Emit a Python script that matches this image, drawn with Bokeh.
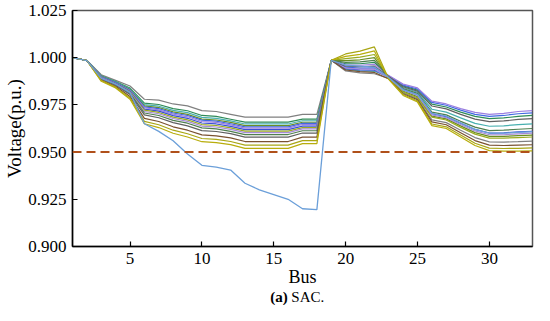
from bokeh.plotting import figure
from bokeh.models import FixedTicker, PrintfTickFormatter, Span, Range1d
from bokeh.layouts import column
from bokeh.core.properties import value
from bokeh.embed import file_html
from bokeh.resources import INLINE

bus = list(range(1, 34))

x_ticks = [5, 10, 15, 20, 25, 30]
y_ticks = [0.900, 0.925, 0.950, 0.975, 1.000, 1.025]
limit = 0.95

v_l0 = [1.0000, .9985, .9910, .9880, .9850, .9780, .9775, .9755, .9745, .9720, .9715, .9700, .9685, .9685, .9685, .9685, .9700, .9700,
        .9986, .9930, .9920, .9915, .9890, .9814, .9782, .9671, .9656, .9616, .9577, .9554, .9553, .9555, .9558]
v_l1 = [1.0000, .9985, .9904, .9874, .9839, .9759, .9752, .9730, .9719, .9694, .9689, .9674, .9659, .9659, .9659, .9659, .9675, .9675,
        .9986, .9968, .9968, .9975, .9902, .9851, .9828, .9754, .9739, .9712, .9689, .9677, .9681, .9689, .9694]
v_l2 = [1.0000, .9985, .9902, .9871, .9835, .9751, .9743, .9721, .9709, .9684, .9679, .9665, .9649, .9649, .9649, .9649, .9666, .9666,
        .9986, .9938, .9930, .9928, .9899, .9842, .9817, .9727, .9712, .9681, .9652, .9637, .9639, .9646, .9650]
v_l3 = [1.0000, .9985, .9900, .9869, .9831, .9745, .9736, .9713, .9700, .9675, .9670, .9657, .9640, .9640, .9640, .9640, .9658, .9658,
        .9986, .9984, .9989, 1.0000, .9893, .9823, .9794, .9691, .9676, .9639, .9603, .9583, .9583, .9587, .9590]
v_l4 = [1.0000, .9985, .9899, .9868, .9828, .9740, .9730, .9707, .9694, .9669, .9664, .9650, .9634, .9634, .9634, .9634, .9652, .9652,
        .9986, .9950, .9945, .9946, .9903, .9855, .9834, .9763, .9748, .9722, .9700, .9689, .9694, .9703, .9708]
v_l5 = [1.0000, .9985, .9898, .9866, .9826, .9735, .9724, .9701, .9687, .9662, .9657, .9644, .9627, .9627, .9627, .9627, .9646, .9646,
        .9986, .9962, .9960, .9965, .9905, .9860, .9840, .9770, .9755, .9730, .9710, .9700, .9705, .9715, .9720]
v_l6 = [1.0000, .9985, .9896, .9864, .9822, .9728, .9717, .9693, .9679, .9654, .9649, .9636, .9619, .9619, .9619, .9619, .9638, .9638,
        .9986, .9942, .9935, .9934, .9896, .9832, .9805, .9703, .9688, .9653, .9620, .9601, .9602, .9607, .9610]
v_l7 = [1.0000, .9985, .9894, .9862, .9819, .9722, .9710, .9685, .9671, .9646, .9641, .9628, .9611, .9611, .9611, .9611, .9630, .9630,
        .9986, .9995, 1.0003, 1.0017, .9891, .9818, .9788, .9685, .9670, .9631, .9595, .9574, .9574, .9577, .9580]
v_l8 = [1.0000, .9985, .9893, .9860, .9815, .9715, .9703, .9678, .9663, .9638, .9633, .9620, .9603, .9603, .9603, .9603, .9623, .9623,
        .9986, .9945, .9940, .9939, .9894, .9828, .9800, .9697, .9682, .9646, .9612, .9592, .9592, .9597, .9600]
v_l9 = [1.0000, .9985, .9890, .9858, .9811, .9707, .9694, .9668, .9653, .9628, .9623, .9610, .9593, .9593, .9593, .9593, .9613, .9613,
        .9986, .9975, .9978, .9986, .9897, .9837, .9811, .9712, .9697, .9663, .9632, .9614, .9616, .9621, .9625]
v_l10 = [1.0000, .9985, .9888, .9854, .9805, .9697, .9682, .9656, .9639, .9614, .9609, .9598, .9579, .9579, .9579, .9579, .9601, .9601,
         .9986, .9955, .9952, .9955, .9900, .9846, .9823, .9744, .9729, .9700, .9675, .9661, .9665, .9673, .9677]
v_l11 = [1.0000, .9985, .9883, .9849, .9795, .9679, .9662, .9634, .9616, .9591, .9586, .9575, .9556, .9556, .9556, .9556, .9579, .9579,
         .9986, .9935, .9926, .9922, .9888, .9809, .9777, .9660, .9645, .9603, .9561, .9537, .9535, .9537, .9539]
v_l12 = [1.0000, .9985, .9879, .9844, .9787, .9663, .9645, .9616, .9597, .9572, .9567, .9556, .9537, .9537, .9537, .9537, .9561, .9561,
         .9986, 1.0020, 1.0035, 1.0057, .9887, .9805, .9771, .9649, .9634, .9591, .9547, .9521, .9519, .9520, .9522]
v_l13 = [1.0000, .9985, .9875, .9840, .9780, .9650, .9630, .9600, .9580, .9555, .9550, .9540, .9520, .9520, .9520, .9520, .9545, .9545,
         .9986, 1.0007, 1.0018, 1.0036, .9885, .9800, .9765, .9640, .9625, .9580, .9535, .9508, .9505, .9505, .9507]
v_drop = [1.0000, .9985, .9890, .9860, .9815, .9650, .9610, .9560, .9490, .9430, .9420, .9405, .9335, .9300, .9275, .9250, .9200, .9195,
          .9986, .9960, .9955, .9950, .9895, .9830, .9805, .9705, .9690, .9655, .9620, .9600, .9600, .9605, .9608]

series = [v_l0, v_l1, v_l2, v_l3, v_l4, v_l5, v_l6, v_l7, v_l8, v_l9, v_l10, v_l11, v_l12, v_l13]
colors = ["#808080", "#2e8b57", "#48b0b0", "#6b8e23", "#4169e1", "#9b7fe0", "#3a4fd6",
          "#9aab1f", "#a58ad8", "#4f7f4f", "#606060", "#7a5230", "#a9a614", "#b8ad0c"]
drop_color = "#6b9fd9"

caption_bold = "(a)"
caption_text = "SAC."

FONT = "Liberation Serif"

p = figure(width=534, height=289, output_backend="svg", toolbar_location=None,
           x_range=Range1d(1, 33), y_range=Range1d(0.9, 1.025),
           min_border_top=10, min_border_right=2, min_border_left=72, min_border_bottom=42)
p.outline_line_color = "#555555"
p.outline_line_width = 1.5
p.grid.visible = False

for vals, c in zip(series, colors):
    p.line(bus, vals, line_color=c, line_width=1.2)
p.line(bus, v_drop, line_color=drop_color, line_width=1.3)

p.add_layout(Span(location=limit, dimension="width", line_color="#b0501a",
                  line_width=2, line_dash="9 5"))

for ax in (p.xaxis[0], p.yaxis[0]):
    ax.major_tick_in = 5
    ax.major_tick_out = 0
    ax.minor_tick_in = 0
    ax.minor_tick_out = 0
    ax.axis_line_width = 1.5
    ax.axis_line_color = "black"
    ax.major_tick_line_color = "black"
    ax.major_tick_line_width = 1.2
    ax.major_label_text_font = FONT
    ax.major_label_text_font_size = "17px"
    ax.major_label_text_color = "black"
    ax.major_label_standoff = 6
    ax.axis_label_text_font = FONT
    ax.axis_label_text_font_size = "18px"
    ax.axis_label_text_font_style = "normal"
    ax.axis_label_text_color = "black"
    ax.axis_label_standoff = 0

p.xaxis[0].ticker = FixedTicker(ticks=x_ticks)
p.xaxis[0].axis_label = "Bus"
p.yaxis[0].ticker = FixedTicker(ticks=y_ticks)
p.yaxis[0].formatter = PrintfTickFormatter(format="%.3f")
p.yaxis[0].axis_label = "Voltage(p.u.)"
p.yaxis[0].axis_label_text_font_size = "19px"

cap = figure(width=534, height=16, output_backend="svg", toolbar_location=None,
             x_range=Range1d(0, 534), y_range=Range1d(0, 16),
             x_axis_location=None, y_axis_location=None, min_border=0)
cap.outline_line_color = None
cap.grid.visible = False
cap.text(x=[250], y=[8.5], text=[caption_bold], text_font=value(FONT), text_font_size="15px",
         text_font_style="bold", text_align="right", text_baseline="middle", text_color="black")
cap.text(x=[254], y=[8.5], text=[caption_text], text_font=value(FONT), text_font_size="15px",
         text_align="left", text_baseline="middle", text_color="black")

layout = column(p, cap, spacing=0)
open("out.html", "w").write(file_html(layout, INLINE))
